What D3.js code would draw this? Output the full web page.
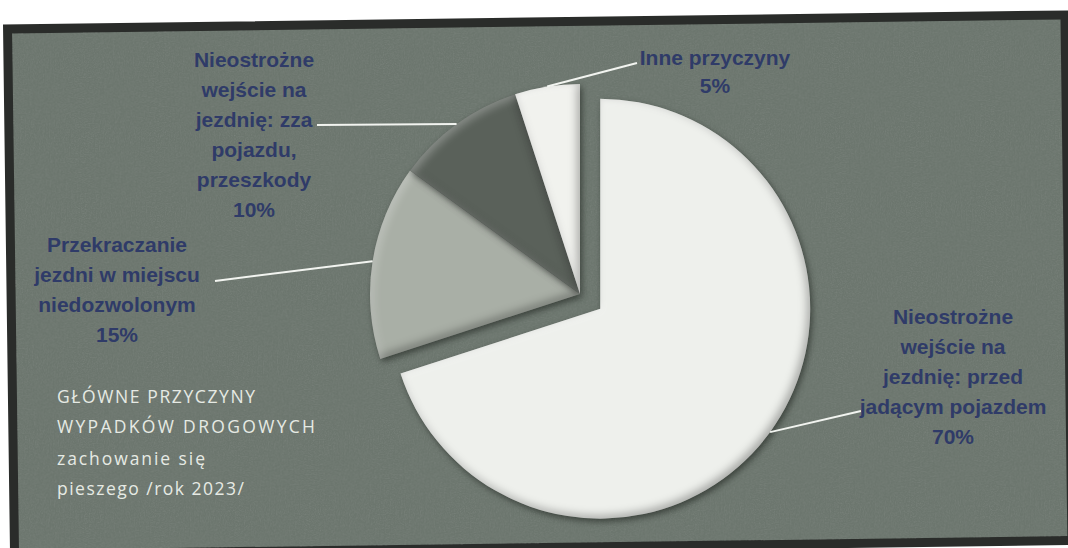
<!DOCTYPE html>
<html>
<head>
<meta charset="utf-8">
<script src="https://cdn.jsdelivr.net/npm/d3@7"></script>
<style>
  html, body { margin: 0; padding: 0; background: #ffffff; }
  svg { display: block; }
</style>
</head>
<body>
<svg id="chart" width="1068" height="548"></svg>
<script>
// ---------- data ----------
const categories = [
  "Nieostrożne wejście na jezdnię: przed jadącym pojazdem",
  "Przekraczanie jezdni w miejscu niedozwolonym",
  "Nieostrożne wejście na jezdnię: zza pojazdu, przeszkody",
  "Inne przyczyny"
];
const values = [70, 15, 10, 5];
const labelLines = [
  ["Nieostrożne", "wejście na", "jezdnię: przed", "jadącym pojazdem"],
  ["Przekraczanie", "jezdni w miejscu", "niedozwolonym"],
  ["Nieostrożne", "wejście na", "jezdnię: zza", "pojazdu,", "przeszkody"],
  ["Inne przyczyny"]
];
const titleLines = ["GŁÓWNE PRZYCZYNY", "WYPADKÓW DROGOWYCH", "zachowanie się", "pieszego /rok 2023/"];

// ---------- layout / style ----------
const W = 1068, H = 548;
const cx = 580, cy = 294, R = 210;
const explode = [25, 0, 0, 0];
const sliceColors = ["#eef0ec", "#a9afa6", "#5a615a", "#f1f2ee"];
const bgColor = "#6c766e";
const labelColor = "#2f3b68";
const labelLayout = [
  { x: 953, y: 324, lh: 30, endDx: -92, endLine: 3, endDy: -3 },
  { x: 117, y: 252, lh: 30, endDx: 98, endLine: 1, endDy: -1 },
  { x: 254, y: 67,  lh: 30, endDx: 63, endLine: 2, endDy: -2 },
  { x: 715, y: 65,  lh: 28, endDx: -78, endLine: 0, endDy: -2 }
];
const titleWidths = [198, 258, 148, 187];

const svg = d3.select("#chart");
const defs = svg.append("defs");

// bevel / shadow filter
const f = defs.append("filter").attr("id", "bevel")
  .attr("x", "-20%").attr("y", "-20%").attr("width", "140%").attr("height", "140%")
  .attr("color-interpolation-filters", "sRGB");
f.append("feGaussianBlur").attr("in", "SourceAlpha").attr("stdDeviation", 3).attr("result", "b1");
f.append("feOffset").attr("in", "b1").attr("dx", 2).attr("dy", 3).attr("result", "o1");
f.append("feFlood").attr("flood-color", "#1a1f1a").attr("flood-opacity", 0.6).attr("result", "f1");
f.append("feComposite").attr("in", "f1").attr("in2", "o1").attr("operator", "in").attr("result", "drop");
const ct = f.append("feComponentTransfer").attr("in", "SourceAlpha").attr("result", "inv");
ct.append("feFuncA").attr("type", "table").attr("tableValues", "1 0");
f.append("feGaussianBlur").attr("in", "inv").attr("stdDeviation", 4).attr("result", "invb");
f.append("feOffset").attr("in", "invb").attr("dx", -3).attr("dy", -3).attr("result", "invS");
f.append("feFlood").attr("flood-color", "#000").attr("flood-opacity", 0.3).attr("result", "fs");
f.append("feComposite").attr("in", "fs").attr("in2", "invS").attr("operator", "in").attr("result", "s1");
f.append("feComposite").attr("in", "s1").attr("in2", "SourceAlpha").attr("operator", "in").attr("result", "inShadow");
f.append("feOffset").attr("in", "invb").attr("dx", 3).attr("dy", 3).attr("result", "invH");
f.append("feFlood").attr("flood-color", "#fff").attr("flood-opacity", 0.3).attr("result", "fh");
f.append("feComposite").attr("in", "fh").attr("in2", "invH").attr("operator", "in").attr("result", "h1");
f.append("feComposite").attr("in", "h1").attr("in2", "SourceAlpha").attr("operator", "in").attr("result", "inHigh");
const mg = f.append("feMerge");
["drop", "SourceGraphic", "inShadow", "inHigh"].forEach(n => mg.append("feMergeNode").attr("in", n));

// grain filter
const g = defs.append("filter").attr("id", "grain").attr("x", 0).attr("y", 0).attr("width", "100%").attr("height", "100%");
g.append("feTurbulence").attr("type", "fractalNoise").attr("baseFrequency", 0.8).attr("numOctaves", 2).attr("seed", 3).attr("result", "t");
g.append("feColorMatrix").attr("in", "t").attr("type", "matrix")
  .attr("values", "0 0 0 0 0.5  0 0 0 0 0.5  0 0 0 0 0.5  0.6 0.6 0 0 -0.5");

// ---------- frame ----------
const frame = svg.append("g").attr("transform", "rotate(-0.76 537 285)");
frame.append("rect").attr("x", 11).attr("y", 22).attr("width", 1057.5).attr("height", 525.6)
  .attr("fill", bgColor).attr("stroke", "#2a2c2a").attr("stroke-width", 9);
frame.append("rect").attr("x", 16).attr("y", 27).attr("width", 1047).attr("height", 516)
  .attr("fill", "#000").attr("filter", "url(#grain)").attr("opacity", 0.35);

// ---------- pie ----------
const pie = d3.pie().sort(null).value(d => d);
const arcs = pie(values);
const arc = d3.arc().innerRadius(0).outerRadius(R);
const rim = d3.arc().innerRadius(R).outerRadius(R);

function offset(a, i) {
  const mid = (a.startAngle + a.endAngle) / 2;
  return [Math.sin(mid) * explode[i], -Math.cos(mid) * explode[i]];
}

const pieG = svg.append("g").attr("transform", `translate(${cx},${cy})`);
pieG.selectAll("path.slice")
  .data(arcs)
  .join("path")
  .attr("class", "slice")
  .attr("d", arc)
  .attr("transform", (a, i) => { const o = offset(a, i); return `translate(${o[0]},${o[1]})`; })
  .attr("fill", (a, i) => sliceColors[i])
  .attr("filter", "url(#bevel)");

// ---------- leader lines ----------
pieG.selectAll("line.leader")
  .data(arcs)
  .join("line")
  .attr("class", "leader")
  .each(function (a, i) {
    const o = offset(a, i);
    const c = rim.centroid(a);
    const L = labelLayout[i];
    d3.select(this)
      .attr("x1", c[0] + o[0]).attr("y1", c[1] + o[1])
      .attr("x2", L.x + L.endDx - cx)
      .attr("y2", L.y + L.endLine * L.lh + L.endDy - cy);
  })
  .attr("stroke", "#f2f4f0").attr("stroke-width", 2);

// ---------- labels ----------
const fmt = d => d + "%";
const lbl = svg.append("g")
  .attr("font-family", "'Liberation Sans', Arial, sans-serif")
  .attr("font-weight", "bold")
  .attr("font-size", 21)
  .attr("fill", labelColor)
  .attr("text-anchor", "middle");
arcs.forEach((a, i) => {
  const L = labelLayout[i];
  const lines = labelLines[i].concat([fmt(values[i])]);
  const t = lbl.append("text").attr("x", L.x).attr("y", L.y);
  lines.forEach((s, k) => {
    t.append("tspan").attr("x", L.x).attr("y", L.y + k * L.lh).text(s);
  });
});

// ---------- title ----------
const tt = svg.append("g")
  .attr("font-family", "'Open Sans', 'DejaVu Sans', sans-serif")
  .attr("font-weight", 400)
  .attr("font-size", 17.5)
  .attr("fill", "#e6eae4");
const titleY = [403, 433, 465, 495];
titleLines.forEach((s, k) => {
  tt.append("text").attr("x", 57).attr("y", titleY[k])
    .attr("textLength", titleWidths[k]).attr("lengthAdjust", "spacing")
    .text(s);
});
</script>
</body>
</html>
